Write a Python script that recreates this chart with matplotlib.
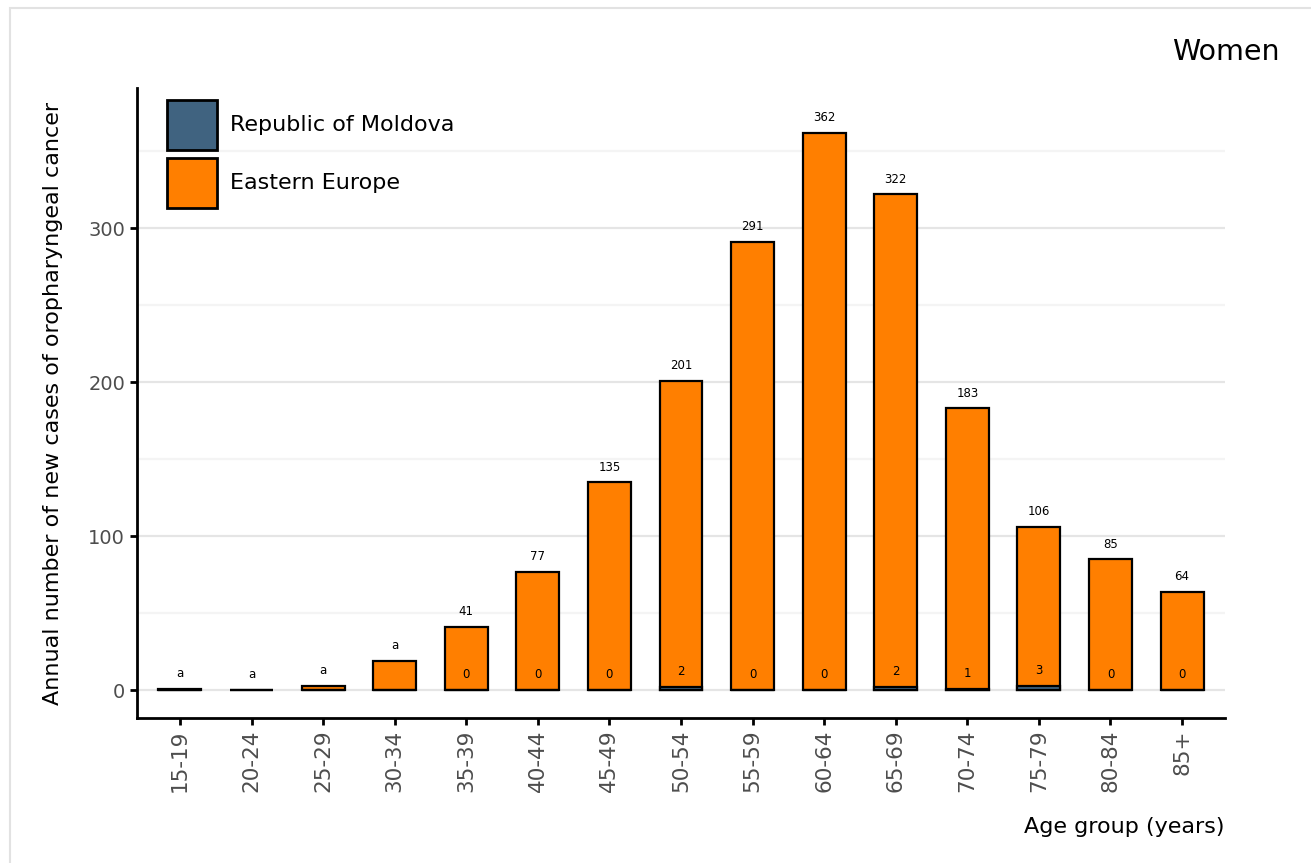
import numpy as np
import matplotlib
matplotlib.use("Agg")
import matplotlib.pyplot as plt
from matplotlib.patches import Rectangle, Patch

#data
age_groups = ["15-19", "20-24", "25-29", "30-34", "35-39", "40-44", "45-49", "50-54",
              "55-59", "60-64", "65-69", "70-74", "75-79", "80-84", "85+"]
eastern_europe = [1, 0.4, 3, 19, 41, 77, 135, 201, 291, 362, 322, 183, 106, 85, 64]
moldova = [0, 0, 0, 0, 0, 0, 0, 2, 0, 0, 2, 1, 3, 0, 0]
ee_labels = ["", "", "", "", "41", "77", "135", "201", "291", "362", "322", "183", "106", "85", "64"]
md_labels = ["a", "a", "a", "a", "0", "0", "0", "2", "0", "0", "2", "1", "3", "0", "0"]

orange = "#FF7F00"
blue = "#406380"

fig = plt.figure(figsize=(13.11, 8.63), dpi=100)
ax = fig.add_axes([137/1311, 1-718/863, (1225-137)/1311, (718-88)/863])

x = np.arange(len(age_groups))
ax.bar(x, eastern_europe, width=0.6, color=orange, edgecolor="black", linewidth=1.6, zorder=3)
ax.bar(x, moldova, width=0.6, color=blue, edgecolor="black", linewidth=1.6, zorder=4)

#value labels, "a" goes above the bar for the youngest groups
for i in range(len(age_groups)):
    if md_labels[i] == "a":
        ax.annotate("a", (x[i], eastern_europe[i]), xytext=(0, 11), textcoords="offset points",
                    ha="center", va="center", fontsize=8.5, zorder=5)
    else:
        ax.annotate(ee_labels[i], (x[i], eastern_europe[i]), xytext=(0, 11), textcoords="offset points",
                    ha="center", va="center", fontsize=8.5, zorder=5)
        ax.annotate(md_labels[i], (x[i], moldova[i]), xytext=(0, 11), textcoords="offset points",
                    ha="center", va="center", fontsize=8.5, zorder=5)

ax.set_xlim(-0.6, 14.6)
ax.set_ylim(-18, 391)
ax.set_xticks(x)
ax.set_xticklabels(age_groups, rotation=90)
ax.set_yticks([0, 100, 200, 300])
ax.set_yticks([50, 150, 250, 350], minor=True)
ax.tick_params(axis="both", which="major", labelcolor="#4d4d4d",
               length=5, width=2, color="black")
ax.tick_params(axis="y", which="major", labelsize=14)
ax.tick_params(axis="x", which="major", labelsize=15.5)
ax.tick_params(axis="y", which="minor", length=0)
ax.grid(axis="y", which="major", color="#e5e5e5", linewidth=1.6, zorder=0)
ax.grid(axis="y", which="minor", color="#f4f4f4", linewidth=1.6, zorder=0)
ax.set_axisbelow(True)

ax.spines["top"].set_visible(False)
ax.spines["right"].set_visible(False)
ax.spines["left"].set_linewidth(2)
ax.spines["bottom"].set_linewidth(2)

ax.set_ylabel("Annual number of new cases of oropharyngeal cancer", fontsize=16, labelpad=18)
ax.set_xlabel("Age group (years)", fontsize=16, loc="right", labelpad=18)

#square legend keys, 50 px each
handles = [Patch(facecolor=blue, edgecolor="black", linewidth=2, label="Republic of Moldova"),
           Patch(facecolor=orange, edgecolor="black", linewidth=2, label="Eastern Europe")]
ax.legend(handles=handles, loc="upper left", bbox_to_anchor=(0.028, 0.981), frameon=False,
          fontsize=16, handlelength=2.25, handleheight=3.08, labelspacing=0.36,
          handletextpad=0.55, borderaxespad=0, borderpad=0)

fig.text(1280/1311, 1-52/863, "Women", fontsize=20.5, ha="right", va="center")

#light frame round the panel
fig.patches.append(Rectangle((10/1311, -0.1), 1.2, 1-8/863+0.1, transform=fig.transFigure,
                             fill=False, edgecolor="#e2e2e2", linewidth=1.5))

plt.savefig("out.png", dpi=100)
